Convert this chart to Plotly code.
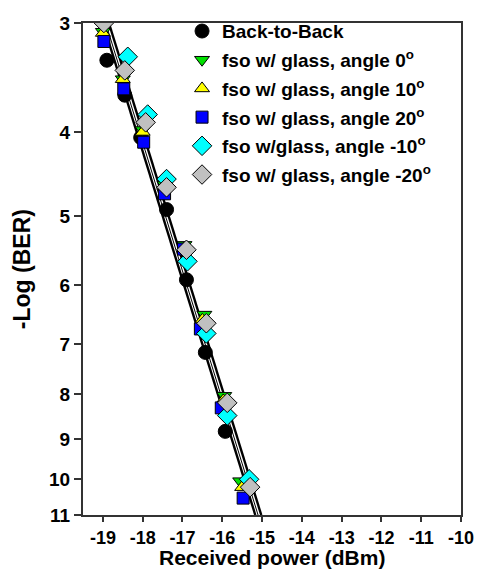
import plotly.graph_objects as go
import math

# ---- data ----
b2b_x = [-18.9, -18.45, -18.05, -17.4, -16.9, -16.425, -15.925]
b2b_y = [3.31, 3.63, 4.06, 4.91, 5.91, 7.16, 8.82]

a0_x = [-19.0, -18.5, -18.0, -17.45, -16.95, -16.45, -15.95, -15.55]
a0_y = [3.07, 3.48, 3.98, 4.60, 5.39, 6.48, 8.03, 10.06]

a10_x = [-19.0, -18.5, -18.0, -17.45, -16.95, -16.5, -15.975, -15.5]
a10_y = [3.08, 3.48, 4.00, 4.62, 5.43, 6.57, 8.13, 10.22]

a20_x = [-18.975, -18.475, -17.975, -17.45, -16.975, -16.55, -16.025, -15.475]
a20_y = [3.15, 3.57, 4.11, 4.71, 5.45, 6.73, 8.29, 10.52]

am10_x = [-18.375, -17.875, -17.4, -16.875, -16.4, -15.875, -15.325]
am10_y = [3.28, 3.82, 4.53, 5.63, 6.81, 8.46, 10.01]

am20_x = [-18.975, -18.45, -17.925, -17.4, -16.9, -16.4, -15.875, -15.3]
am20_y = [3.00, 3.40, 3.90, 4.63, 5.46, 6.63, 8.18, 10.22]

# fitted lines (endpoints at -Log(BER) = 3 and 11)
fit_y = [3, 11]
fit1_x = [-19.0, -15.17]
fit2_x = [-18.93, -15.10]
fit3_x = [-18.85, -15.02]

x_ticks = [-19, -18, -17, -16, -15, -14, -13, -12, -11, -10]
y_ticks = [3, 4, 5, 6, 7, 8, 9, 10, 11]

x_title = "Received power (dBm)"
y_title = "-Log (BER)"

FONT = "Liberation Sans, Arial, sans-serif"

fig = go.Figure()

for fx, w in [(fit1_x, 2.4), (fit2_x, 1.0), (fit3_x, 2.4)]:
    fig.add_trace(go.Scatter(x=fx, y=fit_y, mode="lines",
                             line=dict(color="black", width=w),
                             showlegend=False, hoverinfo="skip"))

series = [
    ("Back-to-Back", b2b_x, b2b_y, "circle", "#000000", 14),
    ("fso w/ glass, angle 0<sup>o</sup>", a0_x, a0_y, "triangle-down", "#00E000", 13),
    ("fso w/ glass, angle 10<sup>o</sup>", a10_x, a10_y, "triangle-up", "#FFFF00", 13),
    ("fso w/ glass, angle 20<sup>o</sup>", a20_x, a20_y, "square", "#0000FF", 12),
    ("fso w/glass, angle -10<sup>o</sup>", am10_x, am10_y, "diamond", "#00FFFF", 15),
    ("fso w/ glass, angle -20<sup>o</sup>", am20_x, am20_y, "diamond", "#C0C0C0", 15),
]
for i, (name, xs, ys, sym, col, sz) in enumerate(series):
    fig.add_trace(go.Scatter(
        x=xs, y=ys, mode="markers", name=name, legendgroup=f"g{i}",
        marker=dict(symbol=sym, color=col, size=sz,
                    line=dict(color="black", width=1)),
    ))

fig.update_layout(
    width=478, height=571,
    margin=dict(l=83, r=17, t=20, b=56),
    paper_bgcolor="white", plot_bgcolor="white",
    font=dict(family=FONT, color="black"),
    legend=dict(x=0.262, y=1.022, xanchor="left", yanchor="top",
                bgcolor="rgba(0,0,0,0)", borderwidth=0,
                font=dict(size=19, family=FONT, weight="bold"),
                tracegroupgap=1, itemwidth=30),
    annotations=[
        dict(text=x_title, xref="paper", yref="paper", x=0.5, y=-0.113,
             xanchor="center", yanchor="bottom", showarrow=False,
             font=dict(size=21, family=FONT, weight="bold", color="black")),
        dict(text=y_title, xref="paper", yref="paper", x=-0.161, y=0.50,
             xanchor="center", yanchor="middle", showarrow=False, textangle=-90,
             font=dict(size=23, family=FONT, weight="bold", color="black")),
    ],
)

fig.update_xaxes(
    range=[-19.5, -10], tickvals=x_ticks, ticktext=[str(v) for v in x_ticks],
    automargin=False,
    showgrid=False, zeroline=False,
    showline=True, linecolor="#333333", linewidth=2, mirror=True,
    ticks="outside", ticklen=5, tickwidth=2, tickcolor="#333333",
    tickfont=dict(size=18, family=FONT, weight="bold"),
)
fig.update_yaxes(
    type="log", range=[math.log10(11), math.log10(3)],
    tickvals=y_ticks, ticktext=[str(v) for v in y_ticks],
    automargin=False,
    showgrid=False, zeroline=False,
    showline=True, linecolor="#333333", linewidth=2, mirror=True,
    ticks="outside", ticklen=7, tickwidth=2, tickcolor="#333333",
    tickfont=dict(size=19, family=FONT, weight="bold"),
)

fig.write_html("out.html")
